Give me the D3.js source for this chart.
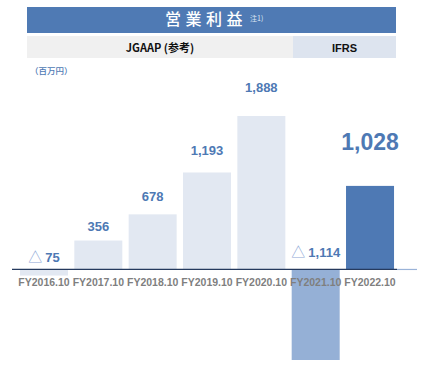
<!DOCTYPE html>
<html><head><meta charset="utf-8">
<script src="https://cdn.jsdelivr.net/npm/d3@7"></script>
<style>body{margin:0;background:#fff}svg{display:block}</style>
</head><body><svg id="c" width="428" height="368"></svg>
<script>
const categories = ["FY2016.10","FY2017.10","FY2018.10","FY2019.10","FY2020.10","FY2021.10","FY2022.10"];
const values = [-75, 356, 678, 1193, 1888, -1114, 1028];
const standards = ["JGAAP","JGAAP","JGAAP","JGAAP","JGAAP","IFRS","IFRS"];
const labels = ["△ 75","356","678","1,193","1,888","△ 1,114","1,028"];
const title = "営業利益";
const note = "注1)";
const unit = "（百万円）";
const headers = ["JGAAP (参考)","IFRS"];

const svg = d3.select("#c");
const F = "'Liberation Sans', Arial, sans-serif";
const CJK = "'Noto Sans CJK JP', 'Liberation Sans', sans-serif";
const blue = "#4e79b4";

// header banner
svg.append("rect").attr("x",27).attr("y",7).attr("width",369).attr("height",26).attr("fill","#4f7ab4");
svg.append("text").attr("x",206).attr("y",25).attr("text-anchor","middle")
  .attr("font-family",CJK).attr("font-size",16).attr("font-weight",500).attr("letter-spacing",4.5)
  .attr("fill","#fff").text(title);
svg.append("text").attr("x",250).attr("y",21).attr("font-family",CJK).attr("font-size",7)
  .attr("fill","#dfe7f3").text(note);

// sub headers
svg.append("rect").attr("x",27).attr("y",36).attr("width",266).attr("height",22).attr("fill","#f0f0f0");
svg.append("rect").attr("x",293).attr("y",36).attr("width",103).attr("height",22).attr("fill","#dde4ef");
svg.append("text").attr("x",160).attr("y",51.5).attr("text-anchor","middle").attr("font-family",CJK)
  .attr("font-size",11).attr("font-weight",700).attr("fill","#111").text(headers[0]);
svg.append("text").attr("x",344.5).attr("y",51.5).attr("text-anchor","middle").attr("font-family",F)
  .attr("font-size",11).attr("font-weight",700).attr("fill","#111").text(headers[1]);

svg.append("text").attr("x",30).attr("y",74).attr("font-family",CJK).attr("font-size",8.5)
  .attr("font-weight",500).attr("fill",blue).text(unit);

const x = d3.scaleBand().domain(categories).range([16.8,397.2]).paddingInner(0.1166).paddingOuter(0.0583);
const y = d3.scaleLinear().domain([-1114,1888]).range([360,116]);

const colorOf = i => standards[i]==="IFRS" ? (values[i] < 0 ? "#95b0d6" : "#4e79b4") : "#e2e8f2";

svg.selectAll("rect.bar").data(values).join("rect").attr("class","bar")
  .attr("x",(d,i)=>x(categories[i])).attr("width",x.bandwidth())
  .attr("y",d=>y(Math.max(0,d))).attr("height",d=>Math.abs(y(d)-y(0)))
  .attr("fill",(d,i)=>colorOf(i));

// baseline
svg.append("line").attr("x1",12).attr("x2",397).attr("y1",y(0)).attr("y2",y(0))
  .attr("stroke","#253a5e").attr("stroke-width",1.2);
svg.append("line").attr("x1",397).attr("x2",417).attr("y1",y(0)).attr("y2",y(0))
  .attr("stroke","#9ab3d8").attr("stroke-width",1.2);

// x axis labels
const ax = d3.axisBottom(x).tickSize(0).tickPadding(0);
const g = svg.append("g").attr("transform",`translate(0,${y(0)+16.5})`).call(ax);
g.select(".domain").remove();
g.selectAll("text").attr("font-family",F).attr("font-size",10.5).attr("font-weight",700)
  .attr("fill","#7f7f7f").attr("dy",0);

// value labels
values.forEach((v,i)=>{
  const cx = x(categories[i]) + x.bandwidth()/2;
  const last = i === values.length-1;
  const t = svg.append("text").attr("text-anchor","middle").attr("font-family",F)
    .attr("font-weight",700).attr("fill",blue);
  if (v < 0) {
    t.attr("x",cx).attr("y",y(0)-(i===0?7:12)).attr("font-size",13);
    const parts = labels[i].split(" ");
    t.append("tspan").attr("font-weight",400).attr("fill","#8da8d6").attr("font-family",CJK).attr("font-size",14).text(parts[0]+" ");
    t.append("tspan").text(parts[1]);
  } else if (last) {
    t.attr("x",cx).attr("y",y(v)-36).attr("font-size",23).text(labels[i]);
  } else {
    t.attr("x",cx).attr("y",y(v)-(6.5+v*0.0095)).attr("font-size",13).text(labels[i]);
  }
});
</script></body></html>
